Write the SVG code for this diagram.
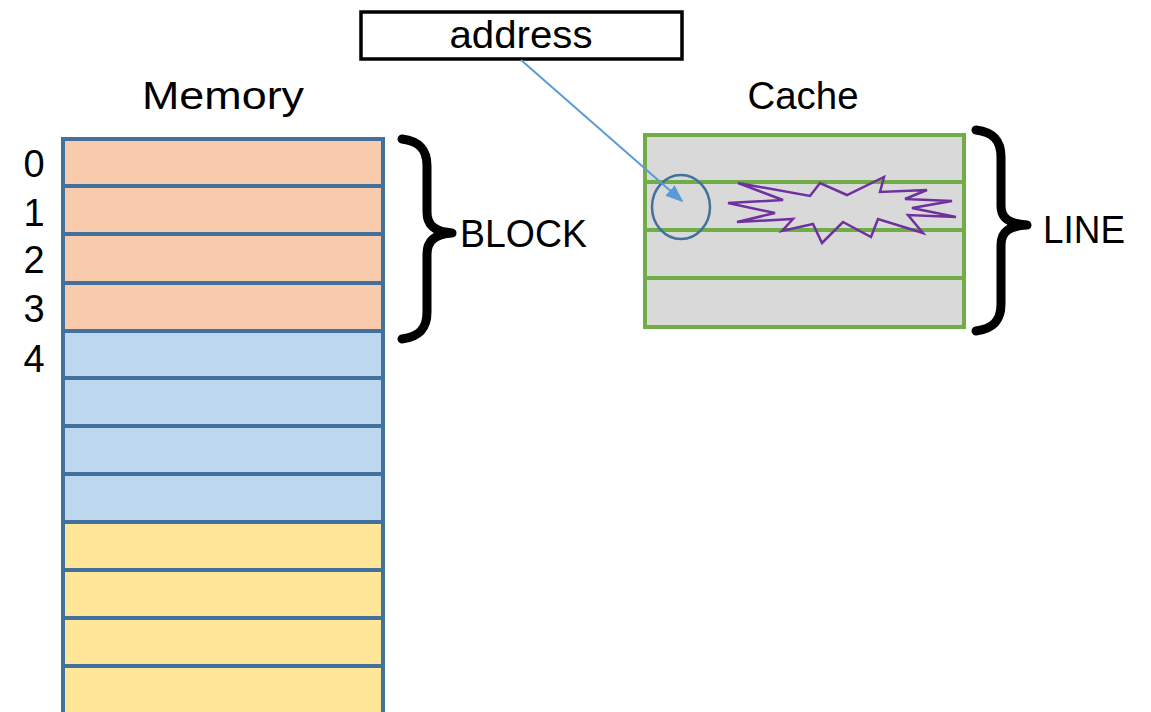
<svg xmlns="http://www.w3.org/2000/svg" width="1151" height="712" viewBox="0 0 1151 712">
<style>
text{font-family:"Liberation Sans",Arial,sans-serif;fill:#000;font-size:38px}
.mem{stroke:#41719C;stroke-width:4}
.o{fill:#F8CBAD}.b{fill:#BDD7EE}.y{fill:#FFE699}
.c{fill:#D9D9D9;stroke:#70AD47;stroke-width:4}
.brace{fill:none;stroke:#000;stroke-width:9;stroke-linecap:round;stroke-linejoin:round}
</style>
<defs>
<marker id="ah" markerWidth="18" markerHeight="14" refX="16" refY="7" orient="auto" markerUnits="userSpaceOnUse" viewBox="0 0 18 14">
<path d="M0,0 L18,7 L0,14 z" fill="#5B9BD5"/>
</marker>
</defs>
<rect width="1151" height="712" fill="#fff"/>
<g id="memory-title"><text x="223" y="109" text-anchor="middle" textLength="162" lengthAdjust="spacingAndGlyphs">Memory</text></g>
<g id="cache-title"><text x="803" y="109" text-anchor="middle" textLength="111" lengthAdjust="spacingAndGlyphs">Cache</text></g>
<g id="memory">
<rect class="mem o" x="63" y="139" width="320" height="47"/>
<rect class="mem o" x="63" y="186" width="320" height="48"/>
<rect class="mem o" x="63" y="234" width="320" height="49"/>
<rect class="mem o" x="63" y="283" width="320" height="48"/>
<rect class="mem b" x="63" y="331" width="320" height="47"/>
<rect class="mem b" x="63" y="378" width="320" height="48"/>
<rect class="mem b" x="63" y="426" width="320" height="48"/>
<rect class="mem b" x="63" y="474" width="320" height="48"/>
<rect class="mem y" x="63" y="522" width="320" height="48"/>
<rect class="mem y" x="63" y="570" width="320" height="48"/>
<rect class="mem y" x="63" y="618" width="320" height="48"/>
<rect class="mem y" x="63" y="666" width="320" height="48"/>
</g>
<g id="indices" text-anchor="middle">
<text x="34" y="177" font-size="35">0</text>
<text x="34" y="226" font-size="35">1</text>
<text x="34" y="273" font-size="35">2</text>
<text x="34" y="322" font-size="35">3</text>
<text x="34" y="372" font-size="35">4</text>
</g>
<g id="block-brace">
<path class="brace" d="M402,139 C418,141 427,148 427,166 L427,212 C427,226 436,232 452,233 C436,234 427,240 427,254 L427,312 C427,330 418,337 402,339"/>
<text x="460" y="247" textLength="127" lengthAdjust="spacingAndGlyphs">BLOCK</text>
</g>
<g id="address">
<rect x="361" y="12" width="321" height="47" fill="#fff" stroke="#000" stroke-width="3.5"/>
<text x="521" y="48" text-anchor="middle" textLength="143" lengthAdjust="spacingAndGlyphs">address</text>
</g>
<g id="cache">
<rect class="c" x="645" y="135" width="319" height="47"/>
<rect class="c" x="645" y="182" width="319" height="48"/>
<rect class="c" x="645" y="230" width="319" height="48"/>
<rect class="c" x="645" y="278" width="319" height="49"/>
<ellipse cx="681" cy="207" rx="29" ry="32" fill="none" stroke="#41719C" stroke-width="2.5"/>
<polygon fill="none" stroke="#7030A0" stroke-width="2.5" points="738,183 810,196 820,183 847,195 884,177 880,192 927,190 905,199 952,201 912,208 956,217 908,215 923,233 878,219 871,237 843,222 822,243 813,224 782,231 793,219 737,222 775,213 728,203 783,200"/>
</g>
<g id="line-brace">
<path class="brace" d="M976,130 C992,132 1001,139 1001,157 L1001,206 C1001,219 1010,224 1027,225 C1010,226 1001,231 1001,245 L1001,304 C1001,322 992,329 976,331"/>
<text x="1043" y="243" textLength="82" lengthAdjust="spacingAndGlyphs">LINE</text>
</g>
<g id="connectors">
<line x1="521" y1="60" x2="682" y2="201" stroke="#5B9BD5" stroke-width="2" marker-end="url(#ah)"/>
</g>
</svg>
